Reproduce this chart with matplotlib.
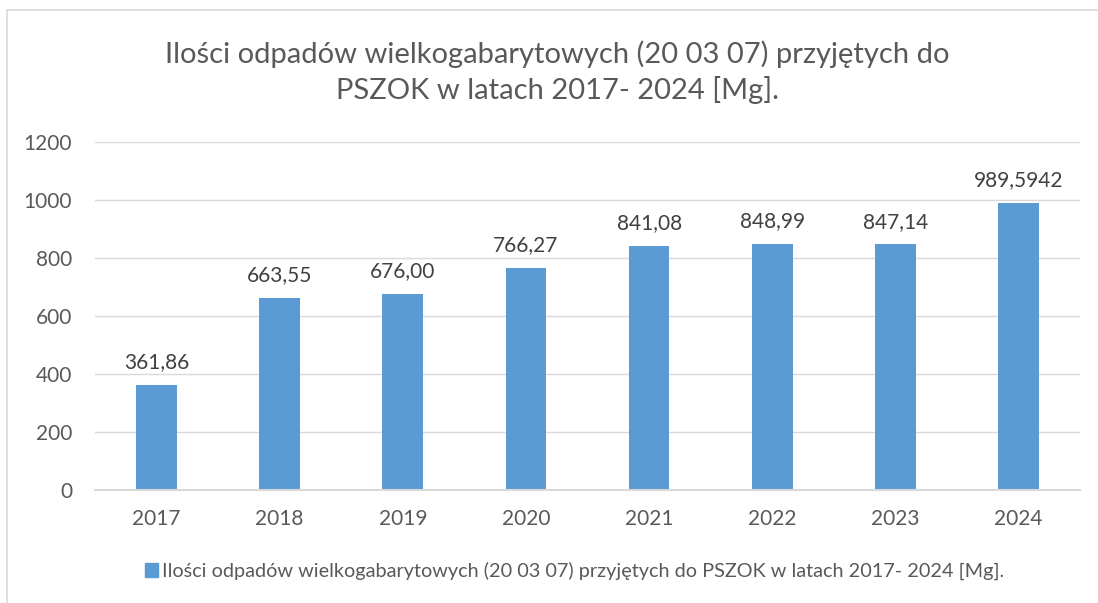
import matplotlib
matplotlib.use("Agg")
import matplotlib.pyplot as plt
from matplotlib.patches import Rectangle
from matplotlib.lines import Line2D

years = ["2017", "2018", "2019", "2020", "2021", "2022", "2023", "2024"]
values = [361.86, 663.55, 676.00, 766.27, 841.08, 848.99, 847.14, 989.5942]
labels = ["361,86", "663,55", "676,00", "766,27", "841,08", "848,99", "847,14", "989,5942"]
yticks = [0, 200, 400, 600, 800, 1000, 1200]
title = "Ilości odpadów wielkogabarytowych (20 03 07) przyjętych do\nPSZOK w latach 2017- 2024 [Mg]."
series_name = "Ilości odpadów wielkogabarytowych (20 03 07) przyjętych do PSZOK w latach 2017- 2024 [Mg]."

plt.rcParams['font.family'] = ['Lato', 'DejaVu Sans']
bar_color = "#5B9BD5"
text_color = "#595959"

fig = plt.figure(figsize=(10.98, 6.03), dpi=100)
W, H = 1098, 603
ax = fig.add_axes([95 / W, 1 - 490 / H, (1080 - 95) / W, (490 - 142) / H])

x = list(range(len(years)))
bars = ax.bar(x, values, width=0.33, color=bar_color, zorder=3)
ax.set_xlim(-0.5, len(years) - 0.5)
ax.set_ylim(0, 1200)
ax.set_yticks(yticks)
ax.set_yticklabels([str(t) for t in yticks])
ax.set_xticks(x)
ax.set_xticklabels(years)
ax.tick_params(axis='both', length=0, labelsize=15, colors=text_color)
ax.tick_params(axis='y', pad=16.5)
ax.tick_params(axis='x', pad=14)
ax.grid(axis='y', color="#D9D9D9", linewidth=1.0, zorder=0)
for s in ["top", "right", "left"]:
    ax.spines[s].set_visible(False)
ax.spines["bottom"].set_color("#D9D9D9")
ax.spines["bottom"].set_linewidth(1.5)
ax.spines["bottom"].set_zorder(4)

for xi, v, lab in zip(x, values, labels):
    ax.annotate(lab, (xi, v), xytext=(0, 9), textcoords="offset points",
                ha="center", va="bottom", fontsize=15, color="#404040")

fig.text(557 / W, 1 - 72 / H, title, ha="center", va="center", fontsize=21,
         color=text_color, linespacing=1.36)

handle = Rectangle((0, 0), 1, 1, color=bar_color)
leg = fig.legend([handle], [series_name], loc="center", bbox_to_anchor=(575 / W, 1 - 571 / H),
                 frameon=False, fontsize=14.3, handlelength=0.65, handleheight=0.65,
                 handletextpad=0.2, labelcolor=text_color)

# chart border (left and top visible)
fig.add_artist(Line2D([7 / W, 7 / W], [0, 1 - 10 / H], transform=fig.transFigure,
                      color="#D9D9D9", linewidth=1.2))
fig.add_artist(Line2D([7 / W, 1], [1 - 10 / H, 1 - 10 / H], transform=fig.transFigure,
                      color="#D9D9D9", linewidth=1.2))

fig.savefig("out.png", dpi=100, facecolor="white")
